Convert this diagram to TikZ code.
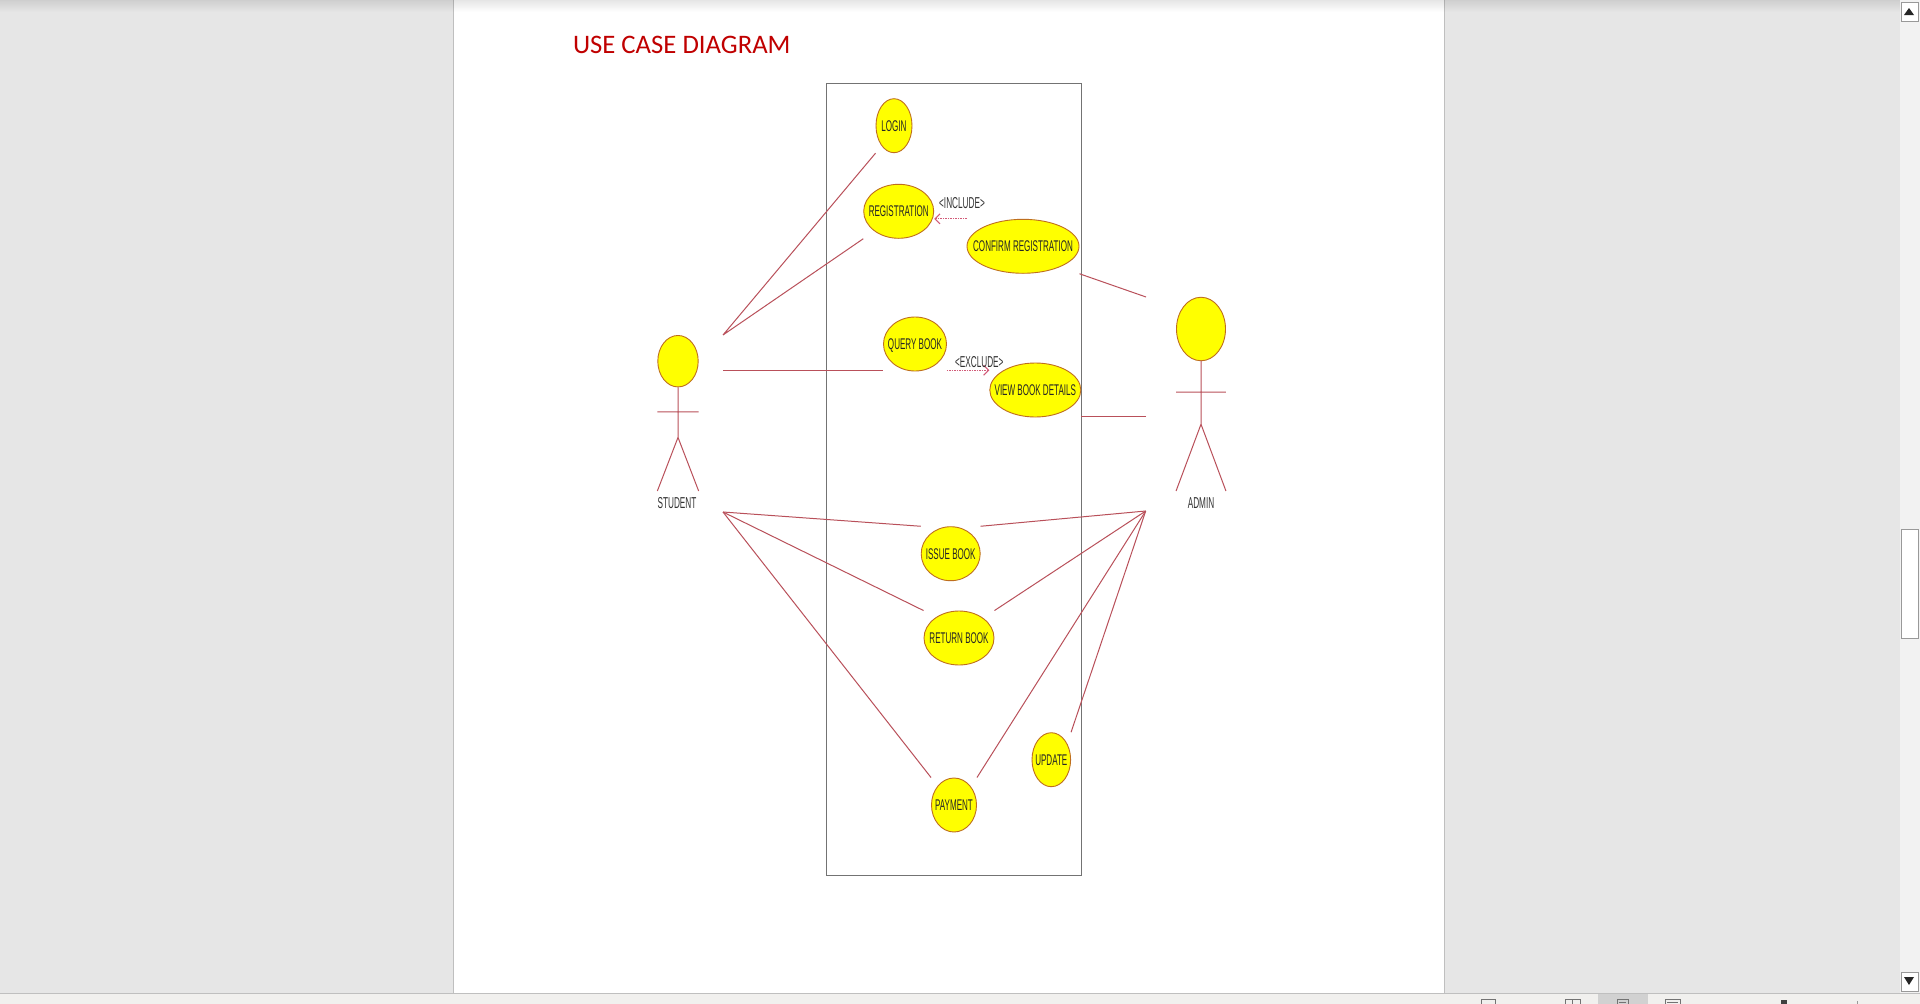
\documentclass[tikz,border=0pt]{standalone}
\usepackage{fontspec}
\setmainfont{Liberation Sans}[FakeStretch=.52]
\newfontfamily\titlefont{Carlito}
\usetikzlibrary{arrows.meta,shapes.geometric}
\definecolor{linkred}{RGB}{185,80,90}
\definecolor{depred}{RGB}{210,90,120}
\definecolor{caseedge}{RGB}{190,110,30}
\definecolor{casefill}{RGB}{255,255,0}
\definecolor{chrome}{RGB}{230,230,230}
\definecolor{barfill}{RGB}{241,240,238}
\definecolor{titlered}{RGB}{192,0,0}
\tikzset{
	case/.style={draw=caseedge,fill=casefill,line width=.9pt,ellipse,inner sep=0pt,font=\fontsize{15.5}{15.5}\selectfont,text=black!85},
	link/.style={draw=linkred,line width=1pt},
	dep/.style={draw=depred,line width=1.1pt,dash pattern=on 1.5pt off 1pt,-{Straight Barb[length=5pt,width=10pt]}},
	tag/.style={font=\fontsize{15.8}{15.8}\selectfont,text=black!80},
	icon/.style={draw=black!55,line width=1pt},
}
\begin{document}
\begin{tikzpicture}[x=1pt,y=-1pt]
	\useasboundingbox (0,0) rectangle (1920,1004);
	% window
	\fill[chrome] (0,0) rectangle (1900,993);
	\fill[white] (453.5,0) rectangle (1444,993);
	\draw[black!25,line width=.7pt] (453.5,0)--(453.5,993) (1444,0)--(1444,993);
	\foreach \i in {0,...,11} {
		\pgfmathsetmacro\o{.1*(1-\i/12)}
		\fill[black,opacity=\o] (0,\i) rectangle (1900,\i+1);
	}
	\fill[black!5] (1900,0) rectangle (1920,993);
	\fill[barfill] (0,993) rectangle (1920,1004);
	\draw[black!25,line width=1pt] (0,993)--(1920,993);
	\foreach \y/\h in {2/19,529/109,972/19} \draw[black!40,fill=white,line width=1pt] (1901,\y) rectangle ++(17,\h);
	\fill[black!85] (1904,15)--(1914,15)--(1909,8)--cycle (1904,977)--(1914,977)--(1909,985)--cycle;
	% status bar
	\fill[black!18] (1598,993.5) rectangle (1648,1004);
	\draw[icon] (1481,1004)--(1481,999)--(1495,999)--(1495,1004);
	\draw[icon] (1565,1004)--(1565,999)--(1580,999)--(1580,1004) (1572.5,999)--(1572.5,1004);
	\draw[icon] (1617,1004)--(1617,999)--(1628,999)--(1628,1004) (1619,1002)--(1626,1002);
	\draw[icon] (1665,1004)--(1665,999)--(1680,999)--(1680,1004) (1667,1002)--(1678,1002);
	\fill[black!75] (1781,1000) rectangle (1787,1004);
	\draw[black!40,line width=.7pt] (1857,1001)--(1857,1004);
	\node[anchor=west,text=titlered,font=\titlefont\fontsize{26.7}{26.7}\selectfont] (title) at (569.5,45) {USE CASE DIAGRAM};
	% system boundary
	\draw[black!55,line width=1.2pt] (826.4,83.5) rectangle (1081.7,875.7);
	% use cases
	\foreach \n/\x/\y/\a/\b/\t in {login/894/125.7/18/27/LOGIN,
		reg/898.7/211.3/35/27/REGISTRATION,
		confirm/1023/246.3/56/27/CONFIRM REGISTRATION,
		query/915/344/31.5/27/QUERY BOOK,
		view/1035.3/390/45.5/27/VIEW BOOK DETAILS,
		issue/950.7/553.7/29.5/27/ISSUE BOOK,
		return/959/638/35/27/RETURN BOOK,
		payment/954/805/22.5/27/PAYMENT,
		update/1051.3/759.7/19.3/27/UPDATE}
		\node[case,minimum width=2*\a pt,minimum height=2*\b pt] (\n) at (\x,\y) {\raisebox{-5.6pt}[0pt][0pt]{\makebox[0pt]{\t}}};
	% actors
	\node[case,minimum width=40.4pt,minimum height=51.5pt] (student) at (678,361.2) {};
	\node[case,minimum width=49pt,minimum height=63.5pt] (admin) at (1201,329) {};
	\path (student.south)++(0,50) coordinate (shi)
		(student.south)++(0,24.5) coordinate (sar)
		(student.west|-sar) coordinate (sal) (student.east|-sar) coordinate (sak)
		(student.west|-0,491) coordinate (sfl) (student.east|-0,491) coordinate (sfr)
		(admin.south)++(0,63) coordinate (ahi)
		(admin.south)++(0,31) coordinate (aar)
		(admin.west|-aar) coordinate (aal) (admin.east|-aar) coordinate (aak)
		(admin.west|-0,491) coordinate (afl) (admin.east|-0,491) coordinate (afr)
		(723,335) coordinate (s1) (723,370.3) coordinate (s2) (723,512) coordinate (s3)
		(1146,297) coordinate (a1) (1146,416.7) coordinate (a2) (1145.7,511) coordinate (a3);
	\draw[link] (student.south)--(shi) (sal)--(sak) (sfl)--(shi)--(sfr);
	\draw[link] (admin.south)--(ahi) (aal)--(aak) (afl)--(ahi)--(afr);
	\node[tag] (sname) at (677,503.5) {STUDENT};
	\node[tag] (aname) at (1201,503) {ADMIN};
	% links
	\draw[link] (s1)--(login.west|-login.south) (s1)--(reg.west|-reg.south);
	\draw[link] (s2)--(query.west|-s2);
	\foreach \n in {issue,return,payment} {
		\draw[link] (s3)--(\n.west|-\n.north);
		\draw[link] (a3)--(\n.east|-\n.north);
	}
	\draw[link] (a3)--(update.east|-update.north);
	\draw[link] (a1)--(confirm.east|-confirm.south);
	\draw[link] (a2)--(view.east|-a2);
	% dependencies
	\draw[dep] (confirm.west|-confirm.north)--(reg.east|-confirm.north);
	\draw[dep] (query.east|-s2)--(view.west|-s2);
	\node[tag] (inc) at (962,203.3) {<INCLUDE>};
	\node[tag] (exc) at (979.3,362) {<EXCLUDE>};
\end{tikzpicture}
\end{document}
